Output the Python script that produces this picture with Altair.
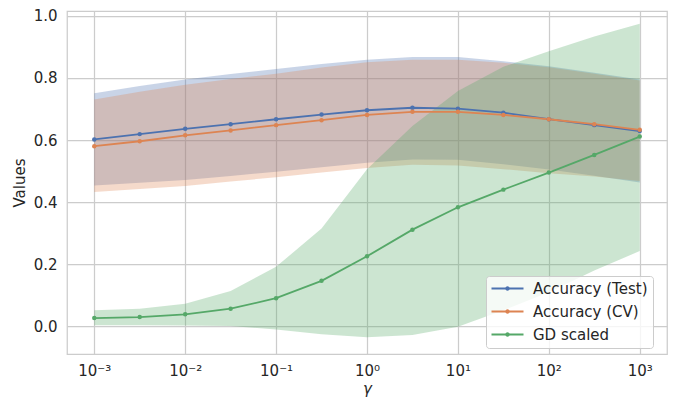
import altair as alt
import pandas as pd

# ---- data ----
gamma = [0.001, 0.003162, 0.01, 0.03162, 0.1, 0.3162, 1.0, 3.162, 10.0, 31.62, 100.0, 316.2, 1000.0]

test_mean = [0.602, 0.619, 0.636, 0.651, 0.667, 0.682, 0.696, 0.704, 0.701, 0.688, 0.667, 0.648, 0.629]
test_hi = [0.751, 0.774, 0.795, 0.813, 0.829, 0.845, 0.859, 0.868, 0.868, 0.854, 0.838, 0.817, 0.795]
test_lo = [0.453, 0.462, 0.471, 0.484, 0.498, 0.512, 0.527, 0.537, 0.536, 0.522, 0.505, 0.485, 0.463]

cv_mean = [0.580, 0.596, 0.615, 0.631, 0.648, 0.664, 0.681, 0.691, 0.691, 0.681, 0.667, 0.651, 0.633]
cv_hi = [0.731, 0.756, 0.778, 0.797, 0.814, 0.834, 0.851, 0.859, 0.859, 0.849, 0.835, 0.814, 0.792]
cv_lo = [0.432, 0.442, 0.452, 0.466, 0.480, 0.495, 0.510, 0.520, 0.518, 0.506, 0.493, 0.482, 0.468]

gd_mean = [0.026, 0.029, 0.038, 0.056, 0.090, 0.146, 0.225, 0.311, 0.383, 0.440, 0.495, 0.552, 0.611]
gd_hi = [0.051, 0.056, 0.072, 0.113, 0.191, 0.315, 0.506, 0.645, 0.758, 0.836, 0.886, 0.934, 0.975]
gd_lo = [0.003, 0.003, 0.002, 0.000, -0.011, -0.026, -0.036, -0.029, -0.002, 0.051, 0.109, 0.179, 0.242]

series_names = ["Accuracy (Test)", "Accuracy (CV)", "GD scaled"]
series_colors = ["#4c72b0", "#dd8452", "#55a868"]

x_tick_values = [0.001, 0.01, 0.1, 1.0, 10.0, 100.0, 1000.0]
x_tick_labels = ["10⁻³", "10⁻²", "10⁻¹", "10⁰", "10¹", "10²", "10³"]
y_tick_values = [0.0, 0.2, 0.4, 0.6, 0.8, 1.0]

# ---- build long table ----
rows = []
for name, m, lo, hi in zip(series_names,
                           [test_mean, cv_mean, gd_mean],
                           [test_lo, cv_lo, gd_lo],
                           [test_hi, cv_hi, gd_hi]):
    for g, a, b, c in zip(gamma, m, lo, hi):
        rows.append({"gamma": g, "series": name, "mean": a, "lo": b, "hi": c})
df = pd.DataFrame(rows)

# label expression from tick lists
expr = "''"
for v, lab in reversed(list(zip(x_tick_values, x_tick_labels))):
    expr = f"abs(datum.value - {v}) < {v}*0.01 ? '{lab}' : ({expr})"

FONT = "DejaVu Sans"
TXT = "#262626"
GRID = "#cccccc"

xscale = alt.Scale(type="log", domain=[10 ** -3.3, 10 ** 3.3], nice=False)
yscale = alt.Scale(domain=[-0.090, 1.016], nice=False, zero=False)

xaxis = alt.Axis(values=x_tick_values, labelExpr=expr, title="γ",
                 titleFontStyle="italic", labelPadding=9, titlePadding=3,
                 grid=True, ticks=False, domain=False)
yaxis = alt.Axis(values=y_tick_values, format=".1f", title="Values",
                 labelPadding=10, titlePadding=6, grid=True, ticks=False, domain=False)

X = alt.X("gamma:Q", scale=xscale, axis=xaxis)

cscale = alt.Scale(domain=series_names, range=series_colors)

base = alt.Chart(df)

bands = []
for name, col in zip(series_names, series_colors):
    bands.append(
        base.transform_filter(alt.datum.series == name).mark_area(
            fill=col, fillOpacity=0.3, strokeWidth=0, interpolate="linear"
        ).encode(
            x=X,
            y=alt.Y("lo:Q", scale=yscale, axis=yaxis, stack=None),
            y2="hi:Q",
        )
    )

line = base.mark_line(strokeWidth=1.8).encode(
    x=X,
    y=alt.Y("mean:Q", scale=yscale, axis=yaxis),
    color=alt.Color("series:N", scale=cscale, legend=None),
    order=alt.Order("gamma:Q"),
)

legend_symbol = ("M-3.2,-0.19H3.2V0.19H-3.2Z "
                 "M-0.45,0A0.45,0.45,0,1,1,0.45,0A0.45,0.45,0,1,1,-0.45,0Z")

pts = base.mark_point(filled=True, size=20, opacity=1).encode(
    x=X,
    y=alt.Y("mean:Q", scale=yscale, axis=yaxis),
    color=alt.Color("series:N", scale=cscale, legend=alt.Legend(
        title=None, orient="none", legendX=419, legendY=265,
        symbolType=legend_symbol, symbolSize=100, symbolOpacity=1,
        symbolOffset=9, labelOffset=18,
        labelFontSize=15, labelFont=FONT, labelColor=TXT,
        rowPadding=7, padding=5, fillColor="rgba(255,255,255,0.8)",
        strokeColor=GRID, cornerRadius=3,
    )),
)

chart = alt.layer(*bands, line, pts).resolve_scale(color="independent").properties(
    width=600, height=343,
    autosize=alt.AutoSizeParams(type="none"),
    padding={"left": 59, "top": 3, "right": 3, "bottom": 44},
    background="white",
).configure_view(
    stroke=GRID, strokeWidth=1.25,
).configure_axis(
    labelFont=FONT, titleFont=FONT, labelFontSize=15, titleFontSize=15,
    labelColor=TXT, titleColor=TXT, titleFontWeight="normal",
    gridColor=GRID, gridWidth=1.25, gridOpacity=1,
)

chart.save("out.html", embed_options={"renderer": "svg", "actions": False})
